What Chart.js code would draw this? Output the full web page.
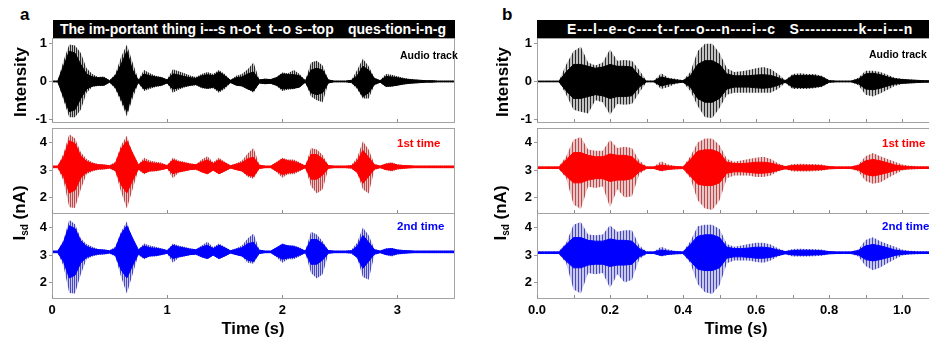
<!DOCTYPE html>
<html>
<head>
<meta charset="utf-8">
<script src="https://cdn.jsdelivr.net/npm/chart.js@4.4.1/dist/chart.umd.min.js"></script>
<style>
  body { margin: 0; background: #fff; font-family: "Liberation Sans", Arial, sans-serif; }
  #fig { position: relative; width: 929px; height: 339px; overflow: hidden; }
  canvas { position: absolute; }
  .t { position: absolute; font-weight: bold; white-space: pre; line-height: 1; transform: translateY(-50%); }
  .c { transform: translate(-50%, -50%); }
  .bar { position: absolute; background: #000; color: #fff; font-weight: bold; font-size: 14px; line-height: 19px; white-space: pre; }
  .bar span { position: absolute; top: 0; }
  .vt { position: absolute; font-weight: bold; font-size: 17px; line-height: 1; white-space: nowrap; transform: translate(-50%, -50%) rotate(-90deg); }
  .vt sub { font-size: 10px; vertical-align: -3px; }
</style>
</head>
<body>
<div id="fig">
  <div class="t" style="left:20px;top:14px;font-size:17px">a</div>
  <div class="t" style="left:502px;top:14px;font-size:17px">b</div>

  <div class="bar" style="left:53px;top:20px;width:402px;height:19px">
    <span style="left:7px">The im-portant thing i---s n-o-t  t--o s--top</span>
    <span style="right:9px">ques-tion-i-n-g</span>
  </div>
  <div class="bar" style="left:537px;top:20px;width:400px;height:19px">
    <span style="left:30px;letter-spacing:0.7px">E---l--e--c----t--r---o---n----i--c   S-----------k---i---n</span>
  </div>

  <canvas id="a1" width="456" height="85" style="left:0;top:38px"></canvas>
  <canvas id="a2" width="456" height="86" style="left:0;top:128px"></canvas>
  <canvas id="a3" width="456" height="110" style="left:0;top:213px"></canvas>
  <canvas id="b1" width="450" height="85" style="left:485px;top:38px"></canvas>
  <canvas id="b2" width="450" height="86" style="left:485px;top:128px"></canvas>
  <canvas id="b3" width="450" height="110" style="left:485px;top:213px"></canvas>

  <div class="vt" style="left:20px;top:82px">Intensity</div>
  <div class="vt" style="left:20px;top:213px">I<sub>sd</sub> (nA)</div>
  <div class="vt" style="left:502px;top:82px">Intensity</div>
  <div class="vt" style="left:501px;top:213px">I<sub>sd</sub> (nA)</div>

  <div class="t" style="left:400px;top:55px;font-size:10.5px">Audio track</div>
  <div class="t" style="left:397px;top:144px;font-size:11.5px;color:#ff0000">1st time</div>
  <div class="t" style="left:397px;top:227px;font-size:11.5px;color:#0000ff">2nd time</div>
  <div class="t" style="left:869px;top:54px;font-size:10.5px">Audio track</div>
  <div class="t" style="left:882px;top:144px;font-size:11.5px;color:#ff0000">1st time</div>
  <div class="t" style="left:882px;top:227px;font-size:11.5px;color:#0000ff">2nd time</div>

  <div class="t c" style="left:253px;top:328px;font-size:16.5px">Time (s)</div>
  <div class="t c" style="left:736px;top:328px;font-size:16.5px">Time (s)</div>
</div>

<script>
// ---- panel a: "The important thing is not to stop questioning" ----
const timeA = [
  0, 0.05, 0.1, 0.15, 0.2, 0.25, 0.3, 0.35, 0.4, 0.45,
  0.5, 0.55, 0.6, 0.65, 0.7, 0.75, 0.8, 0.85, 0.9, 0.95,
  1, 1.05, 1.1, 1.15, 1.2, 1.25, 1.3, 1.35, 1.4, 1.45,
  1.5, 1.55, 1.6, 1.65, 1.7, 1.75, 1.8, 1.85, 1.9, 1.95,
  2, 2.05, 2.1, 2.15, 2.2, 2.25, 2.3, 2.35, 2.4, 2.45,
  2.5, 2.55, 2.6, 2.65, 2.7, 2.75, 2.8, 2.85, 2.9, 2.95,
  3, 3.05, 3.1, 3.15, 3.2, 3.25, 3.3, 3.35, 3.4, 3.45,
  3.5
];
// audio intensity envelope (outer max / min, dense core half-width)
const audioHiA = [
  0.02, 0.02, 0.55, 0.98, 0.95, 0.75, 0.35, 0.2, 0.12, 0.13,
  0.03, 0.2, 0.65, 0.97, 0.5, 0.05, 0.3, 0.22, 0.15, 0.12,
  0.06, 0.32, 0.27, 0.22, 0.16, 0.12, 0.2, 0.25, 0.2, 0.3,
  0.2, 0.04, 0.15, 0.2, 0.32, 0.5, 0.05, 0.07, 0.06, 0.12,
  0.24, 0.22, 0.3, 0.2, 0.03, 0.5, 0.55, 0.42, 0.05, 0.02,
  0.02, 0.02, 0.04, 0.3, 0.6, 0.4, 0.1, 0.03, 0.2, 0.18,
  0.14, 0.1, 0.07, 0.05, 0.04, 0.03, 0.03, 0.02, 0.02, 0.02,
  0.02
];
const audioLoA = [
  -0.02, -0.02, -0.5, -0.95, -0.95, -0.75, -0.3, -0.15, -0.12, -0.12,
  -0.03, -0.2, -0.55, -0.92, -0.45, -0.05, -0.25, -0.2, -0.15, -0.12,
  -0.05, -0.3, -0.22, -0.16, -0.12, -0.1, -0.18, -0.2, -0.18, -0.3,
  -0.2, -0.04, -0.1, -0.12, -0.2, -0.3, -0.05, -0.07, -0.06, -0.12,
  -0.25, -0.22, -0.2, -0.15, -0.03, -0.4, -0.5, -0.55, -0.05, -0.02,
  -0.02, -0.02, -0.04, -0.2, -0.45, -0.45, -0.1, -0.03, -0.15, -0.14,
  -0.1, -0.08, -0.06, -0.05, -0.04, -0.02, -0.02, -0.02, -0.02, -0.02,
  -0.02
];
const audioCoreA = [
  0.01, 0.01, 0.4, 0.8, 0.75, 0.45, 0.2, 0.12, 0.1, 0.1,
  0.02, 0.15, 0.45, 0.8, 0.3, 0.03, 0.2, 0.15, 0.12, 0.1,
  0.04, 0.2, 0.17, 0.13, 0.1, 0.08, 0.15, 0.18, 0.15, 0.25,
  0.15, 0.03, 0.1, 0.12, 0.2, 0.25, 0.04, 0.06, 0.05, 0.1,
  0.2, 0.18, 0.18, 0.15, 0.02, 0.3, 0.35, 0.3, 0.04, 0.01,
  0.01, 0.01, 0.03, 0.15, 0.4, 0.3, 0.08, 0.02, 0.13, 0.12,
  0.1, 0.07, 0.05, 0.04, 0.03, 0.02, 0.02, 0.01, 0.01, 0.01,
  0.01
];
// source-drain current, 1st time (nA)
const firstHiA = [
  3.16, 3.16, 3.6, 4.3, 4.15, 3.65, 3.4, 3.28, 3.22, 3.2,
  3.17, 3.3, 3.9, 4.25, 3.6, 3.2, 3.45, 3.35, 3.3, 3.27,
  3.17, 3.45, 3.35, 3.3, 3.25, 3.2, 3.38, 3.5, 3.28, 3.45,
  3.3, 3.17, 3.25, 3.35, 3.6, 3.8, 3.2, 3.16, 3.16, 3.3,
  3.45, 3.38, 3.38, 3.28, 3.16, 3.8, 3.75, 3.55, 3.17, 3.16,
  3.16, 3.16, 3.18, 3.45, 4.05, 3.75, 3.22, 3.16, 3.25, 3.28,
  3.2, 3.18, 3.17, 3.16, 3.16, 3.16, 3.16, 3.16, 3.16, 3.16,
  3.16
];
const firstLoA = [
  3.07, 3.07, 2.6, 1.65, 1.62, 2.3, 2.85, 2.95, 3.0, 3.02,
  3.05, 2.95, 2.2, 1.6, 2.3, 3.0, 2.85, 2.95, 2.95, 3.0,
  3.05, 2.7, 2.9, 2.95, 3.0, 3.0, 2.92, 2.85, 3.0, 2.85,
  2.95, 3.05, 3.0, 2.95, 2.75, 2.68, 3.05, 3.07, 3.07, 2.92,
  2.72, 2.85, 2.85, 2.95, 3.07, 2.4, 2.15, 2.3, 3.05, 3.07,
  3.07, 3.07, 3.05, 2.9, 2.3, 2.15, 3.0, 3.07, 3.0, 2.95,
  3.02, 3.04, 3.07, 3.07, 3.07, 3.07, 3.07, 3.07, 3.07, 3.07,
  3.07
];
const firstCoreA = [
  0.03, 0.03, 0.35, 0.95, 0.85, 0.4, 0.2, 0.12, 0.08, 0.07,
  0.04, 0.12, 0.65, 0.95, 0.5, 0.08, 0.22, 0.15, 0.13, 0.1,
  0.05, 0.25, 0.18, 0.14, 0.1, 0.08, 0.18, 0.25, 0.12, 0.25,
  0.15, 0.04, 0.1, 0.15, 0.3, 0.35, 0.06, 0.03, 0.03, 0.15,
  0.28, 0.22, 0.2, 0.12, 0.03, 0.45, 0.45, 0.3, 0.05, 0.03,
  0.03, 0.03, 0.04, 0.2, 0.6, 0.35, 0.08, 0.03, 0.1, 0.12,
  0.07, 0.05, 0.04, 0.03, 0.03, 0.03, 0.03, 0.03, 0.03, 0.03,
  0.03
];
// source-drain current, 2nd time (nA)
const secondHiA = [
  3.16, 3.16, 3.55, 4.28, 4.12, 3.6, 3.4, 3.3, 3.22, 3.2,
  3.17, 3.3, 3.85, 4.22, 3.55, 3.2, 3.42, 3.35, 3.3, 3.25,
  3.17, 3.42, 3.35, 3.3, 3.25, 3.2, 3.35, 3.48, 3.28, 3.42,
  3.3, 3.17, 3.25, 3.35, 3.6, 3.78, 3.2, 3.16, 3.16, 3.28,
  3.42, 3.35, 3.35, 3.28, 3.16, 3.85, 3.75, 3.5, 3.17, 3.16,
  3.16, 3.16, 3.18, 3.45, 4.0, 3.72, 3.22, 3.16, 3.25, 3.26,
  3.2, 3.18, 3.17, 3.16, 3.16, 3.16, 3.16, 3.16, 3.16, 3.16,
  3.16
];
const secondLoA = [
  3.07, 3.07, 2.6, 1.62, 1.6, 2.3, 2.85, 2.95, 3.0, 3.02,
  3.05, 2.95, 2.2, 1.6, 2.3, 3.0, 2.85, 2.95, 2.95, 3.0,
  3.05, 2.72, 2.9, 2.95, 3.0, 3.0, 2.92, 2.85, 3.0, 2.85,
  2.95, 3.05, 3.0, 2.95, 2.72, 2.68, 3.05, 3.07, 3.07, 2.92,
  2.72, 2.85, 2.85, 2.95, 3.07, 2.35, 2.15, 2.3, 3.05, 3.07,
  3.07, 3.07, 3.05, 2.9, 2.2, 2.1, 3.0, 3.07, 3.0, 2.95,
  3.02, 3.04, 3.07, 3.07, 3.07, 3.07, 3.07, 3.07, 3.07, 3.07,
  3.07
];
const secondCoreA = [
  0.03, 0.03, 0.35, 0.95, 0.85, 0.4, 0.2, 0.12, 0.08, 0.07,
  0.04, 0.12, 0.65, 0.95, 0.5, 0.08, 0.22, 0.15, 0.13, 0.1,
  0.05, 0.24, 0.18, 0.14, 0.1, 0.08, 0.18, 0.24, 0.12, 0.24,
  0.15, 0.04, 0.1, 0.15, 0.3, 0.35, 0.06, 0.03, 0.03, 0.15,
  0.27, 0.22, 0.2, 0.12, 0.03, 0.45, 0.45, 0.3, 0.05, 0.03,
  0.03, 0.03, 0.04, 0.2, 0.6, 0.35, 0.08, 0.03, 0.1, 0.12,
  0.07, 0.05, 0.04, 0.03, 0.03, 0.03, 0.03, 0.03, 0.03, 0.03,
  0.03
];
const baseA = 3.115;

// ---- panel b: "Electronic Skin" ----
const timeB = [
  0, 0.02, 0.04, 0.06, 0.08, 0.1, 0.12, 0.14, 0.16, 0.18,
  0.2, 0.22, 0.24, 0.26, 0.28, 0.3, 0.32, 0.34, 0.36, 0.38,
  0.4, 0.42, 0.44, 0.46, 0.48, 0.5, 0.52, 0.54, 0.56, 0.58,
  0.6, 0.62, 0.64, 0.66, 0.68, 0.7, 0.72, 0.74, 0.76, 0.78,
  0.8, 0.82, 0.84, 0.86, 0.88, 0.9, 0.92, 0.94, 0.96, 0.98,
  1, 1.02, 1.04, 1.06, 1.08
];
const audioHiB = [
  0.01, 0.01, 0.01, 0.01, 0.45, 0.8, 0.92, 0.5, 0.42, 0.5,
  0.85, 0.55, 0.57, 0.55, 0.3, 0.02, 0.02, 0.22, 0.1, 0.07,
  0.03, 0.25, 0.8, 1.0, 1.0, 0.75, 0.35, 0.25, 0.27, 0.3,
  0.35, 0.38, 0.33, 0.2, 0.04, 0.2, 0.22, 0.2, 0.2, 0.15,
  0.04, 0.02, 0.02, 0.02, 0.1, 0.28, 0.28, 0.25, 0.18, 0.1,
  0.07, 0.05, 0.04, 0.03, 0.03
];
const audioLoB = [
  -0.01, -0.01, -0.01, -0.01, -0.35, -0.75, -0.8, -0.85, -0.5, -0.55,
  -0.88, -0.6, -0.62, -0.6, -0.3, -0.02, -0.02, -0.2, -0.15, -0.06,
  -0.03, -0.25, -0.65, -0.95, -0.97, -0.7, -0.35, -0.3, -0.3, -0.3,
  -0.3, -0.3, -0.3, -0.2, -0.04, -0.2, -0.2, -0.2, -0.18, -0.15,
  -0.04, -0.02, -0.02, -0.02, -0.1, -0.35, -0.4, -0.32, -0.22, -0.12,
  -0.07, -0.05, -0.04, -0.03, -0.03
];
const audioCoreB = [
  0.01, 0.01, 0.01, 0.01, 0.25, 0.45, 0.45, 0.4, 0.35, 0.38,
  0.45, 0.4, 0.4, 0.38, 0.15, 0.01, 0.01, 0.12, 0.07, 0.04,
  0.02, 0.15, 0.45, 0.55, 0.55, 0.45, 0.2, 0.15, 0.15, 0.15,
  0.17, 0.18, 0.16, 0.1, 0.02, 0.15, 0.16, 0.16, 0.15, 0.12,
  0.02, 0.01, 0.01, 0.01, 0.06, 0.2, 0.22, 0.18, 0.12, 0.07,
  0.05, 0.04, 0.03, 0.02, 0.02
];
const firstHiB = [
  3.13, 3.13, 3.13, 3.13, 3.5, 4.1, 4.2, 3.75, 3.7, 3.7,
  4.1, 3.8, 3.85, 3.8, 3.35, 3.13, 3.13, 3.32, 3.2, 3.15,
  3.13, 3.5, 4.0, 4.15, 4.15, 3.9, 3.4, 3.3, 3.35, 3.4,
  3.45, 3.48, 3.4, 3.25, 3.15, 3.22, 3.23, 3.22, 3.22, 3.2,
  3.14, 3.13, 3.13, 3.13, 3.2, 3.5, 3.62, 3.5, 3.4, 3.3,
  3.2, 3.16, 3.15, 3.14, 3.14
];
const firstLoB = [
  3.04, 3.04, 3.04, 3.04, 2.7, 1.75, 1.58, 2.4, 2.35, 2.4,
  1.65, 2.3, 2.0, 2.05, 2.85, 3.04, 3.04, 2.95, 3.0, 3.03,
  3.04, 2.7, 1.9, 1.6, 1.55, 1.9, 2.7, 2.8, 2.8, 2.8,
  2.75, 2.75, 2.8, 2.95, 3.03, 2.95, 2.95, 2.95, 2.96, 2.97,
  3.03, 3.04, 3.04, 3.04, 2.95, 2.6, 2.5, 2.55, 2.7, 2.85,
  2.98, 3.02, 3.03, 3.04, 3.04
];
const firstCoreB = [
  0.03, 0.03, 0.03, 0.03, 0.3, 0.55, 0.55, 0.45, 0.4, 0.4,
  0.5, 0.45, 0.45, 0.4, 0.15, 0.03, 0.03, 0.1, 0.06, 0.04,
  0.03, 0.3, 0.6, 0.65, 0.65, 0.55, 0.2, 0.15, 0.15, 0.17,
  0.2, 0.2, 0.17, 0.1, 0.04, 0.08, 0.09, 0.09, 0.08, 0.07,
  0.04, 0.03, 0.03, 0.03, 0.08, 0.25, 0.3, 0.25, 0.18, 0.1,
  0.06, 0.04, 0.03, 0.03, 0.03
];
const secondHiB = [
  3.13, 3.13, 3.13, 3.13, 3.45, 4.1, 4.2, 3.75, 3.72, 3.75,
  4.08, 3.85, 3.9, 3.9, 3.35, 3.13, 3.13, 3.3, 3.2, 3.15,
  3.13, 3.5, 4.05, 4.1, 4.1, 3.95, 3.4, 3.3, 3.35, 3.4,
  3.45, 3.45, 3.38, 3.25, 3.15, 3.22, 3.23, 3.22, 3.22, 3.2,
  3.14, 3.13, 3.13, 3.13, 3.2, 3.55, 3.65, 3.5, 3.4, 3.3,
  3.2, 3.16, 3.15, 3.14, 3.14
];
const secondLoB = [
  3.04, 3.04, 3.04, 3.04, 2.7, 1.75, 1.6, 2.35, 2.3, 2.35,
  1.8, 2.3, 2.0, 2.1, 2.85, 3.04, 3.04, 2.95, 3.0, 3.03,
  3.04, 2.7, 1.95, 1.65, 1.58, 1.9, 2.7, 2.8, 2.8, 2.8,
  2.75, 2.72, 2.8, 2.95, 3.03, 2.95, 2.95, 2.95, 2.96, 2.97,
  3.03, 3.04, 3.04, 3.04, 2.95, 2.6, 2.45, 2.55, 2.7, 2.85,
  2.98, 3.02, 3.03, 3.04, 3.04
];
const secondCoreB = [
  0.03, 0.03, 0.03, 0.03, 0.3, 0.55, 0.55, 0.45, 0.42, 0.42,
  0.5, 0.45, 0.45, 0.42, 0.15, 0.03, 0.03, 0.1, 0.06, 0.04,
  0.03, 0.3, 0.6, 0.65, 0.65, 0.55, 0.2, 0.15, 0.15, 0.17,
  0.2, 0.2, 0.17, 0.1, 0.04, 0.08, 0.09, 0.09, 0.08, 0.07,
  0.04, 0.03, 0.03, 0.03, 0.08, 0.25, 0.3, 0.25, 0.18, 0.1,
  0.06, 0.04, 0.03, 0.03, 0.03
];
const baseB = 3.085;

const tickMarksA = [0, 1, 2, 3];
const tickMarksB = [0, 0.1, 0.2, 0.3, 0.4, 0.5, 0.6, 0.7, 0.8, 0.9, 1.0];

Chart.defaults.font.family = "'Liberation Sans', Arial, sans-serif";
Chart.defaults.color = '#000';

// grey frame round each plot plus small inward ticks on its bottom edge
const framePlugin = {
  id: 'frame',
  afterDraw(chart, args, opts) {
    const { ctx, chartArea: a, scales } = chart;
    ctx.save();
    ctx.strokeStyle = '#a3a3a3';
    ctx.lineWidth = 1;
    ctx.strokeRect(a.left + 0.5, a.top + 0.5, a.width - 1, a.height - 1);
    ctx.strokeStyle = '#8c8c8c';
    (opts.marks || []).forEach(v => {
      const px = Math.round(scales.x.getPixelForValue(v)) + 0.5;
      ctx.beginPath();
      ctx.moveTo(px, a.bottom - 1);
      ctx.lineTo(px, a.bottom - 4);
      ctx.stroke();
    });
    ctx.restore();
  }
};
Chart.register(framePlugin);

// vertical stripes, to look like the sparse oscillation peaks of the waveform
function stripes(dark, light, period) {
  const c = document.createElement('canvas');
  c.width = period; c.height = 1;
  const g = c.getContext('2d');
  g.fillStyle = light; g.fillRect(0, 0, period, 1);
  g.fillStyle = dark; g.fillRect(0, 0, 1, 1);
  return g.createPattern(c, 'repeat');
}

function drawTrace(id, p) {
  const ctx = document.getElementById(id).getContext('2d');
  const pts = ys => p.t.map((x, i) => ({ x: x, y: ys[i] }));
  const none = 'rgba(0,0,0,0)';
  new Chart(ctx, {
    type: 'line',
    data: {
      datasets: [
        { data: pts(p.core.map(c => p.base + c)), fill: '+1', backgroundColor: p.color, borderColor: p.color, borderWidth: 1 },
        { data: pts(p.core.map(c => p.base - c)), fill: false, borderColor: p.color, borderWidth: 1 },
        { data: pts(p.hi), fill: '+1', backgroundColor: stripes(p.dark, p.light, p.period), borderColor: none, borderWidth: 0 },
        { data: pts(p.lo), fill: false, borderColor: none, borderWidth: 0 }
      ]
    },
    options: {
      responsive: false,
      animation: false,
      layout: { padding: { top: 0, bottom: 0, left: 0, right: p.padRight } },
      elements: { point: { radius: 0 }, line: { tension: 0 } },
      plugins: {
        legend: { display: false },
        tooltip: { enabled: false },
        frame: { marks: p.marks }
      },
      scales: {
        x: {
          type: 'linear', min: 0, max: p.xMax, display: p.showX,
          grid: { display: false, drawTicks: false },
          border: { display: false },
          ticks: {
            stepSize: p.xStep, autoSkip: false, maxRotation: 0, includeBounds: false, padding: 4,
            font: { size: 13, weight: 'bold' }, color: '#000',
            callback: p.xLabel
          },
          afterFit: s => { s.height = p.showX ? 24 : 0; s.paddingLeft = 0; s.paddingRight = 0; }
        },
        y: {
          min: p.yMin, max: p.yMax,
          grid: { drawOnChartArea: false, tickLength: 3, color: '#999' },
          border: { display: false },
          ticks: { stepSize: 1, includeBounds: false, padding: 2, font: { size: 13, weight: 'bold' }, color: '#000' },
          afterFit: s => { s.width = 52; s.paddingTop = 0; s.paddingBottom = 0; }
        }
      }
    }
  });
}

const labelA = v => String(v);
const labelB = v => (Math.round(v * 10) % 2 === 0 ? v.toFixed(1) : '');
const panelA = { t: timeA, xMax: 3.5, xStep: 1, marks: tickMarksA, xLabel: labelA, padRight: 1, period: 2 };
const panelB = { t: timeB, xMax: 1.09, xStep: 0.1, marks: tickMarksB, xLabel: labelB, padRight: 0, period: 3 };

const black = { color: '#000000', dark: '#2a2a2a', light: '#c2c2c2' };
const red = { color: '#ff0000', dark: '#c04848', light: '#e6c6c6' };
const blue = { color: '#0000ff', dark: '#4848c0', light: '#c8c8ea' };

drawTrace('a1', { ...panelA, ...black, hi: audioHiA, lo: audioLoA, core: audioCoreA, base: 0, yMin: -1.1, yMax: 1.15, showX: false });
drawTrace('a2', { ...panelA, ...red, hi: firstHiA, lo: firstLoA, core: firstCoreA, base: baseA, yMin: 1.4, yMax: 4.53, showX: false });
drawTrace('a3', { ...panelA, ...blue, hi: secondHiA, lo: secondLoA, core: secondCoreA, base: baseA, yMin: 1.4, yMax: 4.53, showX: true });
drawTrace('b1', { ...panelB, ...black, hi: audioHiB, lo: audioLoB, core: audioCoreB, base: 0, yMin: -1.1, yMax: 1.15, showX: false });
drawTrace('b2', { ...panelB, ...red, hi: firstHiB, lo: firstLoB, core: firstCoreB, base: baseB, yMin: 1.4, yMax: 4.53, showX: false });
drawTrace('b3', { ...panelB, ...blue, hi: secondHiB, lo: secondLoB, core: secondCoreB, base: baseB, yMin: 1.4, yMax: 4.53, showX: true });
</script>
</body>
</html>
